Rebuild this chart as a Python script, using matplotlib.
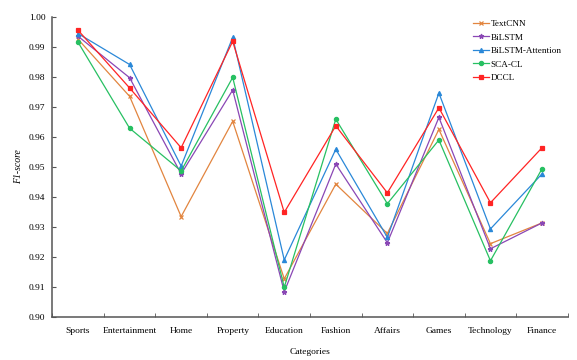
import matplotlib.pyplot as plt
import numpy as np

plt.rcParams['font.family'] = ['Liberation Serif', 'DejaVu Serif']

categories = ['Sports', 'Entertainment', 'Home', 'Property', 'Education',
              'Fashion', 'Affairs', 'Games', 'Technology', 'Finance']

textcnn = [0.9925, 0.9735, 0.9335, 0.9652, 0.9128, 0.9443, 0.9279, 0.9625, 0.9245, 0.9314]
bilstm = [0.9935, 0.9797, 0.9477, 0.9756, 0.9085, 0.9510, 0.9248, 0.9665, 0.9228, 0.9314]
bilstm_att = [0.9944, 0.9841, 0.9503, 0.9931, 0.9191, 0.9559, 0.9266, 0.9746, 0.9294, 0.9477]
sca_cl = [0.9915, 0.9629, 0.9487, 0.9798, 0.9100, 0.9659, 0.9378, 0.9590, 0.9188, 0.9494]
dccl = [0.9955, 0.9763, 0.9564, 0.9918, 0.9349, 0.9637, 0.9414, 0.9697, 0.9381, 0.9564]

series = [
    ('TextCNN', textcnn, '#E2853F', 'x', 2.5),
    ('BiLSTM', bilstm, '#8A47B5', '*', 3.5),
    ('BiLSTM-Attention', bilstm_att, '#2A88D8', '^', 3),
    ('SCA-CL', sca_cl, '#27C062', 'o', 3),
    ('DCCL', dccl, '#FF2424', 's', 3.5),
]

fig = plt.figure(figsize=(5.77, 3.60), dpi=100)
ax = fig.add_axes([0.0906, 0.1186, 0.8934, 0.835])

x = np.arange(len(categories))
for name, vals, color, marker, ms in series:
    ax.plot(x, vals, color=color, marker=marker, markersize=ms, linewidth=0.9,
            markeredgewidth=0.9, label=name)

ax.set_xlim(-0.5, len(categories) - 0.5)
ax.set_ylim(0.90, 1.00)
ax.set_yticks(np.arange(0.90, 1.001, 0.01))
ax.yaxis.set_major_formatter(plt.FormatStrFormatter('%.2f'))
ax.set_xticks(x)
ax.set_xticklabels(categories)
ax.set_xticks(np.arange(-0.5, len(categories), 1), minor=True)
ax.tick_params(axis='x', which='major', length=0, labelsize=6.8, pad=7)
ax.tick_params(axis='x', which='minor', direction='in', length=3, color='#555555')
ax.tick_params(axis='y', direction='in', length=3, labelsize=6.8, color='#555555', pad=5)

for s in ['top', 'right']:
    ax.spines[s].set_visible(False)
for s in ['left', 'bottom']:
    ax.spines[s].set_color('#555555')
    ax.spines[s].set_linewidth(1.1)

ax.set_xlabel('Categories', fontsize=6.8, labelpad=9)
ax.set_ylabel('F1-score', fontsize=7, fontstyle='italic', labelpad=4)

fig.legend(loc='upper left', bbox_to_anchor=(0.82, 0.945), frameon=False,
           fontsize=6.6, handlelength=1.7, handletextpad=0.2, labelspacing=0.55,
           borderpad=0, borderaxespad=0)

fig.savefig('out.png', dpi=100)
